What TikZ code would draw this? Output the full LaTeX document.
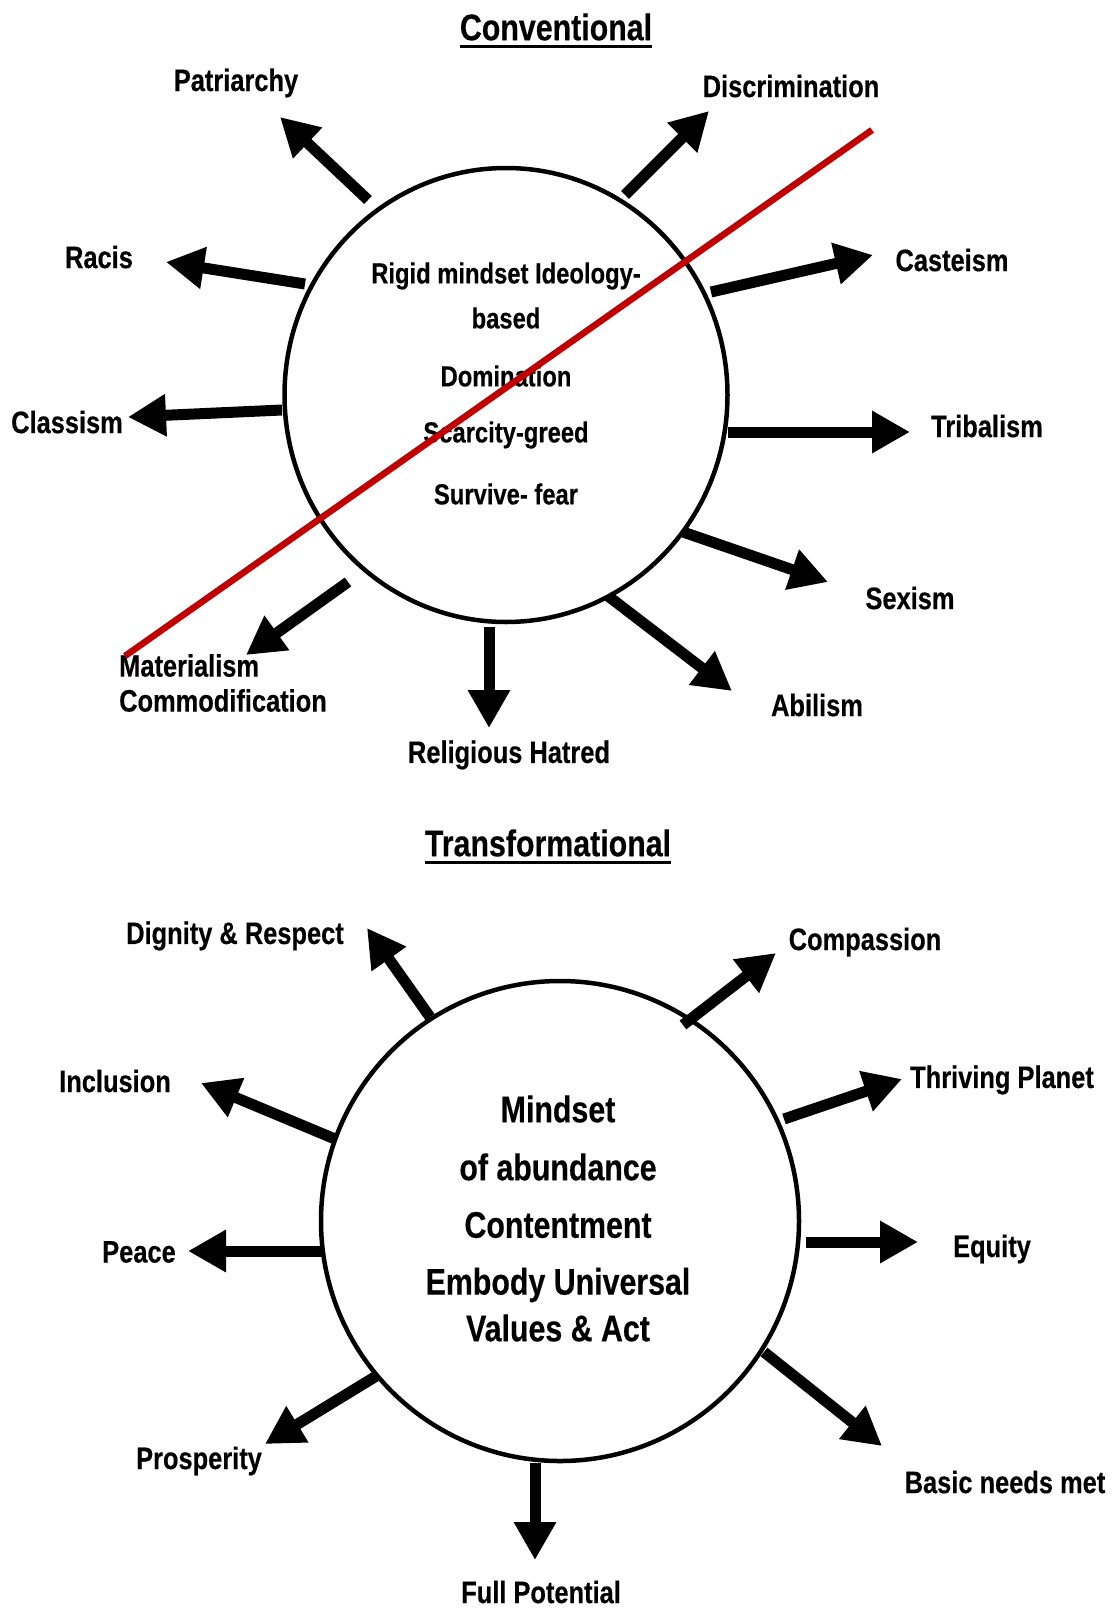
\documentclass[tikz,border=0pt]{standalone}
\usepackage{fontspec}
\setmainfont{Liberation Sans}[FakeStretch=0.82,FakeBold=0.35]
\usetikzlibrary{arrows.meta,shapes.geometric}
\begin{document}
\begin{tikzpicture}[x=1pt,y=-1pt,
  lbl/.style={font=\bfseries\fontsize{31}{35}\selectfont, inner sep=0pt},
  ctxt/.style={font=\bfseries\fontsize{29}{33}\selectfont, inner sep=0pt},
  btxt/.style={font=\bfseries\fontsize{37}{42}\selectfont, inner sep=0pt},
  ttl/.style={font=\bfseries\fontsize{37}{42}\selectfont, inner sep=0pt},
  bigarrow/.style={line width=11pt, -{Triangle[width=40pt,length=38pt]}},
  ring/.style={draw, line width=4.5pt, ellipse, inner sep=0pt},
  uline/.style={line width=3pt},
  redline/.style={line width=6.5pt, draw={rgb,255:red,192;green,0;blue,0}}
]
\useasboundingbox (0,0) rectangle (1114,1611);

% ---------- Conventional ----------
\node[ttl] (t1) at (556,27) {Conventional};
\draw[uline] ([yshift=-6pt]t1.base west) -- ([yshift=-6pt]t1.base east);

\node[ring, minimum width=443pt, minimum height=454pt] (c1) at (506,395) {};
\node[ctxt] (c1a) at (506,276) {Rigid mindset Ideology-};
\node[ctxt] (c1b) at (506,318) {based};
\node[ctxt] (c1c) at (506,376) {Domination};
\node[ctxt] (c1d) at (506,435) {Scarcity-greed};
\node[ctxt] (c1e) at (506,494) {Survive- fear};

\node[lbl] (lpa) at (236,83) {Patriarchy};
\node[lbl] (ldi) at (791,86) {Discrimination};
\node[lbl] (lra) at (99,257) {Racis};
\node[lbl] (lca) at (952,260) {Casteism};
\node[lbl] (lcl) at (67,422) {Classism};
\node[lbl] (ltr) at (987,426) {Tribalism};
\node[lbl] (lse) at (910,598) {Sexism};
\node[lbl] (lab) at (817,705) {Abilism};
\node[lbl] (lre) at (509,755) {Religious Hatred};
\node[lbl, anchor=west, align=left] (lma) at (119,683) {Materialism\\Commodification};

\coordinate (pa0) at (368,200); \coordinate (pa1) at (280,117);
\coordinate (di0) at (625,195); \coordinate (di1) at (709,111);
\coordinate (ra0) at (305,284); \coordinate (ra1) at (166,262);
\coordinate (ca0) at (711,292); \coordinate (ca1) at (873,255);
\coordinate (cl0) at (282,410); \coordinate (cl1) at (128,417);
\coordinate (tr0) at (728,432); \coordinate (tr1) at (910,432);
\coordinate (se0) at (683,532); \coordinate (se1) at (828,582);
\coordinate (ab0) at (608,596); \coordinate (ab1) at (732,691);
\coordinate (re0) at (489,627); \coordinate (re1) at (489,728);
\coordinate (ma0) at (348,582); \coordinate (ma1) at (246,655);
\foreach \a in {pa,di,ra,ca,cl,tr,se,ab,re,ma}
  \draw[bigarrow] (\a0) -- (\a1);

\coordinate (r1) at (872,130); \coordinate (r2) at (125,656);
\draw[redline] (r1) -- (r2);

% ---------- Transformational ----------
\node[ttl] (t2) at (548,843) {Transformational};
\draw[uline] ([yshift=-6pt]t2.base west) -- ([yshift=-6pt]t2.base east);

\node[ring, minimum width=478pt, minimum height=480pt] (c2) at (560,1221) {};
\node[btxt] (c2a) at (558,1109) {Mindset};
\node[btxt] (c2b) at (558,1167) {of abundance};
\node[btxt] (c2c) at (558,1225) {Contentment};
\node[btxt] (c2d) at (558,1285) {Embody Universal};
\node[btxt] (c2e) at (558,1328) {Values \& Act};

\node[lbl] (ldr) at (235,936) {Dignity \& Respect};
\node[lbl] (lco) at (865,942) {Compassion};
\node[lbl] (lin) at (115,1081) {Inclusion};
\node[lbl] (ltp) at (1002,1080) {Thriving Planet};
\node[lbl] (lpe) at (139,1252) {Peace};
\node[lbl] (leq) at (992,1249) {Equity};
\node[lbl] (lpr) at (199,1461) {Prosperity};
\node[lbl] (lbn) at (1005,1482) {Basic needs met};
\node[lbl] (lfp) at (541,1592) {Full Potential};

\coordinate (dr0) at (430,1017); \coordinate (dr1) at (367,928);
\coordinate (co0) at (683,1025); \coordinate (co1) at (776,953);
\coordinate (in0) at (335,1139); \coordinate (in1) at (201,1083);
\coordinate (tp0) at (784,1119); \coordinate (tp1) at (902,1079);
\coordinate (pe0) at (323,1251); \coordinate (pe1) at (188,1251);
\coordinate (eq0) at (806,1242); \coordinate (eq1) at (918,1242);
\coordinate (pr0) at (378,1375); \coordinate (pr1) at (265,1444);
\coordinate (fp0) at (535,1463); \coordinate (fp1) at (535,1560);
\coordinate (bn0) at (764,1352); \coordinate (bn1) at (882,1446);
\foreach \a in {dr,co,in,tp,pe,eq,pr,fp,bn}
  \draw[bigarrow] (\a0) -- (\a1);
\end{tikzpicture}
\end{document}
